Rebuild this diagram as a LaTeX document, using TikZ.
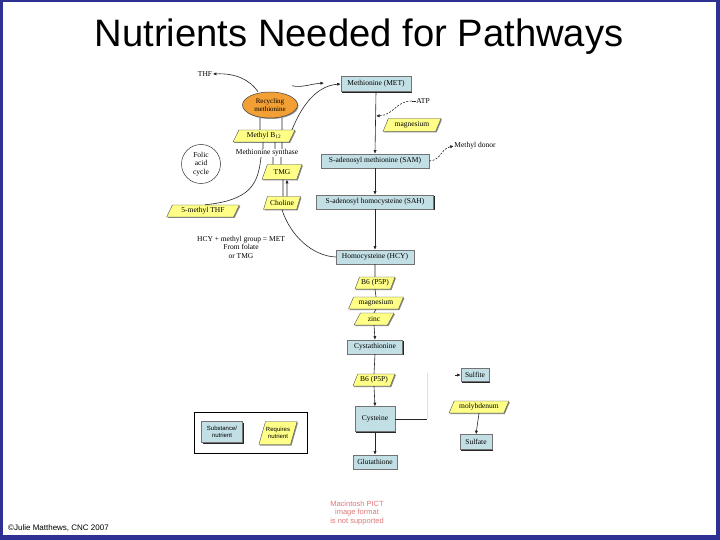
\documentclass[tikz,border=0pt]{standalone}
\usepackage{fontspec}
\setmainfont{Liberation Serif}
\newfontfamily\sansf{Liberation Sans}
\usetikzlibrary{shapes.geometric,arrows.meta,shadows}
\definecolor{frameblue}{HTML}{2E3192}
\definecolor{boxblue}{HTML}{C2DFE5}
\definecolor{pgyellow}{HTML}{FFFF88}
\definecolor{recorange}{HTML}{F2A035}
\definecolor{pictred}{HTML}{E07878}
\tikzset{
  lbl/.style={font=\fontsize{7.5}{8.5}\selectfont, inner sep=0.5pt},
  bx/.style={draw=black!55, fill=boxblue, line width=0.4pt, font=\fontsize{7.5}{8.5}\selectfont,
    inner sep=1pt, align=center,
    drop shadow={shadow xshift=1.2pt, shadow yshift=-1.2pt, fill=black!85, opacity=1}},
  pg/.style={trapezium, trapezium left angle=62, trapezium right angle=118, trapezium stretches=true,
    draw=black!70, fill=pgyellow, line width=0.4pt, font=\fontsize{7.5}{8.5}\selectfont,
    inner sep=0.5pt, align=center,
    drop shadow={shadow xshift=1pt, shadow yshift=-1pt, fill=black!45, opacity=1}},
  conn/.style={line width=0.6pt, black!85},
  ar/.style={conn, -{Latex[length=3.6pt,width=3.2pt]}},
  dar/.style={ar, dash pattern=on 2pt off 1.4pt},
}
\begin{document}
\begin{tikzpicture}[x=1pt,y=-1pt]
\path[use as bounding box] (0,0) rectangle (720,540);
\fill[frameblue] (0,0) rectangle (720,540);
\fill[white] (3,2.5) rectangle (715.5,535);

% title
\node[font=\sansf\fontsize{38.2}{41}\selectfont, anchor=base, inner sep=0] (title) at (359,47) {Nutrients Needed for Pathways};

% main column
\node[bx, minimum width=70, minimum height=15] (met) at (376,84) {Methionine (MET)};
\node[lbl] (atp) at (423,101) {ATP};
\node[pg, minimum width=58, minimum height=13] (mg1) at (412,125) {magnesium};
\node[bx, minimum width=108, minimum height=14] (sam) at (375,161) {S-adenosyl methionine (SAM)};
\node[lbl] (mdon) at (475,146) {Methyl donor};
\node[bx, minimum width=117, minimum height=14] (sah) at (375,202) {S-adenosyl homocysteine (SAH)};
\node[bx, minimum width=78, minimum height=14] (hcy) at (375,257) {Homocysteine (HCY)};
\node[pg, minimum width=40, minimum height=12] (b6a) at (375,283) {B6 (P5P)};
\node[pg, minimum width=55, minimum height=12] (mg2) at (376,303) {magnesium};
\node[pg, minimum width=40, minimum height=12] (zinc) at (374,319) {zinc};
\node[bx, minimum width=55, minimum height=14] (cyst) at (375,347) {Cystathionine};
\node[pg, minimum width=42, minimum height=12] (b6b) at (374,380) {B6 (P5P)};
\node[bx, minimum width=40, minimum height=25] (cys) at (375,419) {Cysteine};
\node[bx, minimum width=44, minimum height=14] (glu) at (375,462) {Glutathione};
\node[bx, minimum width=28, minimum height=13] (sulfite) at (475,375) {Sulfite};
\node[pg, minimum width=60, minimum height=12] (moly) at (479,407) {molybdenum};
\node[bx, minimum width=32, minimum height=15] (sulfate) at (476,442) {Sulfate};

% left part
\node[lbl] (thf) at (205,74) {THF};
\node[ellipse, draw=black!75, fill=recorange, line width=0.5pt, minimum width=55, minimum height=26,
  inner sep=0pt, align=center, font=\fontsize{7}{7.5}\selectfont,
  drop shadow={shadow xshift=1pt, shadow yshift=-1pt, fill=black!40, opacity=1}] (rec) at (270,105) {Recycling\\methionine};
\node[pg, minimum width=62, minimum height=12] (mb) at (264,136) {Methyl B\textsubscript{12}};
\node[lbl] (ms) at (267,153) {Methionine synthase};
\node[circle, draw=black!80, fill=white, line width=0.5pt, minimum size=39, inner sep=0pt, align=center,
  font=\fontsize{7.5}{8.5}\selectfont] (folic) at (201,164) {Folic\\acid\\cycle};
\node[pg, minimum width=40, minimum height=15] (tmg) at (282,172) {TMG};
\node[pg, minimum width=37, minimum height=13] (chol) at (282,203) {Choline};
\node[pg, minimum width=73, minimum height=12] (mthf) at (203,211) {5-methyl THF};
\node[lbl, align=center, font=\fontsize{7.5}{8.5}\selectfont] (hcyt) at (241,247) {HCY + methyl group = MET\\From folate\\or TMG};

% legend
\node[draw=black, line width=0.6pt, minimum width=113, minimum height=41, inner sep=0] (legend) at (250.5,432.5) {};
\node[bx, minimum width=41, minimum height=21, font=\sansf\fontsize{6}{7}\selectfont] (legb) at (222,432) {Substance/\\nutrient};
\node[pg, minimum width=37, minimum height=23, font=\sansf\fontsize{6}{7}\selectfont] (legy) at (278,433) {Requires\\nutrient};

% footer
\node[font=\sansf\fontsize{8}{9}\selectfont, anchor=west, inner sep=0] (foot) at (8,528) {©Julie Matthews, CNC 2007};
\node[font=\sansf\fontsize{7.5}{8.6}\selectfont, text=pictred, align=center, inner sep=0] (pict) at (357,513) {Macintosh PICT\\image format\\is not supported};

% connectors main column
\draw[ar] (met.south) -- (sam.north);
\coordinate (atpin) at (376,116);
\draw[conn] (atp.west) -- ++(-4,0) coordinate (atpmid);
\draw[dar] (atpmid) .. controls (396,101) and (394,115) .. (atpin);
\draw[dar] (sam.east) .. controls (442,160) and (440,149) .. (mdon.west);
\draw[ar] (sam.south) -- (sah.north);
\draw[ar] (sah.south) -- (hcy.north);
\draw[conn] (hcy.south) -- (b6a.north);
\draw[conn] (b6a.south) -- (mg2.north);
\draw[conn] (mg2.south) -- (zinc.north);
\draw[ar] (zinc.south) -- (cyst.north);
\draw[conn] (cyst.south) -- (b6b.north);
\draw[ar] (b6b.south) -- (cys.north);
\draw[ar] (cys.south) -- (glu.north);
\coordinate (cright) at (427,419);
\coordinate (ctop) at (427,373);
\draw[conn] (cys.east) -- (cright);
\draw[black!12, line width=0.5pt] (cright) -- (ctop);
\coordinate (sfrom) at (455,375);
\draw[ar] (sfrom) -- (sulfite.west);
\draw[ar] (moly.south) -- (sulfate.north);

% connectors left
\draw[ar] ([xshift=-12pt]rec.north) .. controls (250,80) and (236,73) .. (thf.east);
\coordinate (c1end) at (324,83);
\draw[ar] ([xshift=22pt,yshift=6pt]rec.north) .. controls (302,88) and (310,84) .. (c1end);
\draw[ar] ([xshift=28pt]mb.north) .. controls (300,110) and (314,86) .. (met.west);
\draw[conn] ([xshift=-10pt]rec.south) -- ([xshift=-4pt]mb.north);
\draw[conn] ([xshift=12pt]rec.south) -- ([xshift=18pt]mb.north);
\draw[conn] ([xshift=-1pt]mb.south) -- ([xshift=-4pt]ms.north);
\draw[conn] ([xshift=11pt]mb.south) -- ([xshift=8pt]ms.north);
\draw[conn] ([xshift=18pt]mb.south) -- ([xshift=15pt]ms.north);
\draw[conn] ([xshift=6pt]ms.south) -- ([xshift=-9pt]tmg.north);
\draw[conn] ([xshift=14pt]ms.south) -- ([xshift=-1pt]tmg.north);
\draw[conn] ([xshift=1pt]chol.north) -- ([xshift=1pt]tmg.south);
\draw[ar] ([xshift=5pt]chol.north) -- ([xshift=5pt]tmg.south);
\draw[conn] ([xshift=-6pt]ms.south) .. controls (258,185) and (250,200) .. ([xshift=-4pt]mthf.north east);
\draw[conn] (chol.south) .. controls (290,235) and (312,256) .. (hcy.west);
\end{tikzpicture}
\end{document}
